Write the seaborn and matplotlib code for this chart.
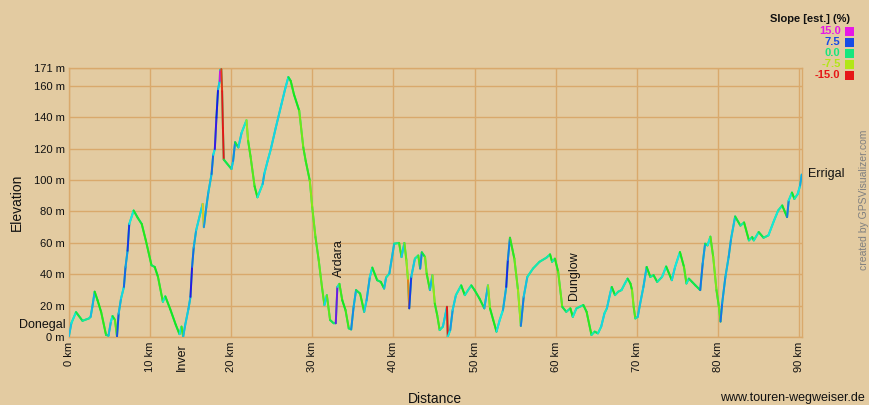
import numpy as np
import pandas as pd
import matplotlib
matplotlib.use("Agg")
import matplotlib.pyplot as plt
import seaborn as sns
from matplotlib.collections import LineCollection
from matplotlib.colors import hsv_to_rgb
from matplotlib.patches import Rectangle

# ---------------- data ----------------
distance_km = [
    0.0, 0.33, 0.66, 0.9, 1.7, 2.5, 2.7, 2.9, 3.2, 3.55, 4.0, 4.6, 4.9, 5.2, 5.4, 5.7,
    5.95, 6.15, 6.45, 6.8, 7.0, 7.25, 7.46, 8.0, 8.5, 9.0, 9.5, 10.2, 10.6, 11.0, 11.6,
    11.9, 12.5, 13.2, 13.65, 13.9, 14.1, 14.35, 14.75, 15.0, 15.2, 15.4, 15.7, 16.3,
    16.5, 16.65, 16.95, 17.2, 17.6, 17.8, 18.0, 18.2, 18.4, 18.6, 18.65, 18.8, 18.9,
    19.0, 19.1, 20.05, 20.25, 20.5, 20.9, 21.3, 21.9, 22.1, 22.4, 22.9, 23.25, 23.9,
    24.1, 24.5, 24.9, 25.5, 26.2, 26.7, 27.06, 27.35, 27.75, 28.4, 28.9, 29.2, 29.7,
    30.0, 30.4, 30.8, 31.2, 31.5, 31.8, 32.2, 32.65, 32.9, 33.1, 33.35, 33.7, 34.1,
    34.5, 34.8, 35.1, 35.4, 35.9, 36.4, 36.7, 37.1, 37.4, 38.0, 38.45, 38.86, 39.1,
    39.5, 40.1, 40.7, 41.0, 41.35, 41.6, 41.8, 41.95, 42.2, 42.65, 43.06, 43.3, 43.5,
    43.9, 44.1, 44.5, 44.8, 45.1, 45.4, 45.7, 46.1, 46.6, 46.7, 47.0, 47.3, 47.7,
    48.35, 48.8, 49.2, 49.6, 50.0, 50.6, 51.2, 51.65, 51.9, 52.3, 52.7, 53.1, 53.5,
    53.9, 54.1, 54.36, 54.9, 55.35, 55.7, 56.05, 56.5, 57.2, 58.0, 58.85, 59.3, 59.55,
    59.9, 60.3, 60.8, 61.3, 61.8, 62.1, 62.55, 63.4, 63.8, 64.4, 64.8, 65.2, 65.6,
    66.0, 66.3, 66.7, 66.9, 67.3, 67.7, 68.1, 68.56, 68.85, 69.2, 69.4, 69.6, 69.8,
    70.1, 70.4, 70.8, 71.2, 71.65, 72.05, 72.5, 73.1, 73.6, 74.3, 74.7, 75.3, 75.8,
    76.1, 76.4, 76.8, 77.2, 77.8, 78.1, 78.4, 78.7, 79.05, 79.4, 79.8, 80.1, 80.3,
    80.5, 80.9, 81.3, 81.6, 82.1, 82.75, 83.2, 83.8, 84.2, 84.4, 85.0, 85.6, 86.2,
    86.9, 87.4, 87.9, 88.5, 88.7, 89.1, 89.4, 89.8, 90.1, 90.3,
]
elevation_m = [
    0, 9, 13, 16, 10.5, 12, 13, 19, 29, 23.6, 16, 1.5, 1, 10, 13.5, 11,
    0.5, 15, 24.7, 32, 44.7, 55, 72, 80.6, 76, 72, 61.6, 45.8, 44.7, 38.4, 22.6,
    26, 18, 7.8, 2, 6.8, 0.4, 7.8, 18, 25.7, 44.7, 57, 68, 80.6,
    84.8, 70, 82.7, 92, 103.8, 116, 119.6, 139.7, 157.6, 162.9, 170, 170.5, 156.5,
    133, 113, 107, 112, 124, 120.7, 130, 138, 125, 115, 96, 89, 97.5,
    104, 112, 119.6, 133, 148, 158.6, 165.4, 163, 154.4, 144, 120.7, 112, 99.6,
    82.7, 63.7, 49, 32, 20.5, 26.8, 11, 8.9, 8.9, 32, 34, 23.6, 17.3,
    5.7, 5, 19.4, 30, 27.8, 16.2, 23.6, 38.4, 44.3, 36.3, 35.2, 31, 38,
    40.5, 59.5, 60, 51, 60, 49, 36.3, 18.4, 38.4, 50, 52, 43.7, 54,
    51, 40.5, 30, 39.5, 21.5, 14, 4.6, 6.8, 19.4, 0.4, 4.6, 17.3, 26.8,
    33, 26.8, 30, 33, 30, 24.7, 18.4, 33, 18.4, 11, 3.6, 11, 17.3,
    32, 49, 63.3, 50, 30, 7.2, 25.7, 38.4, 43.7, 48, 50.6, 52.7, 48,
    50, 41.6, 19.4, 16.2, 18.4, 13, 18.4, 20.5, 16.2, 1.5, 3.6, 2.5, 6.8,
    15.2, 18.4, 27.8, 32, 26.8, 29, 30, 34.6, 37.3, 34.2, 30, 19.4, 12,
    13, 21.5, 32, 44.7, 38.4, 39.5, 35.2, 38.4, 45, 36.3, 44.7, 54.2, 44.7,
    34.2, 37.3, 35.2, 33, 30, 46.8, 59.5, 58.4, 64, 51, 30, 19.4, 10,
    21.5, 38.4, 51, 62.7, 76.8, 71, 73, 61.6, 63.7, 61.6, 66.9, 63.3, 64.8,
    74.3, 80.6, 83.8, 76.4, 87, 92, 88, 91, 96.4, 103.4,
]

x_ticks_km = [0, 10, 20, 30, 40, 50, 60, 70, 80, 90]
y_ticks_m = [0, 20, 40, 60, 80, 100, 120, 140, 160, 171]

legend_slopes = [15.0, 7.5, 0.0, -7.5, -15.0]

waypoint_names = ["Donegal", "Inver", "Ardara", "Dunglow", "Errigal"]
waypoint_km = [0.0, 13.9, 33.35, 62.2, 90.3]
waypoint_elev = [0, 0, 34, 13, 103.4]

# ---------------- style ----------------
BG = "#E3CBA1"
GRID = "#D9A96C"
W, H = 869, 405


def slope_hue(s):
    a = min(abs(float(s)), 15.0)
    sign = 1.0 if s >= 0 else -1.0
    if a <= 7.5:
        off = 75.0 * (a / 7.5) ** 0.6
    else:
        off = 75.0 + 10.0 * (a - 7.5)
    return (150.0 + sign * off) / 360.0


def slope_color(s):
    return hsv_to_rgb([slope_hue(s), 0.9, 0.9])


sns.set_theme(style="white")
plt.rcParams["font.family"] = ["Liberation Sans", "DejaVu Sans"]

fig = plt.figure(figsize=(W / 100, H / 100), dpi=100, facecolor=BG)
ax = fig.add_axes([68.7 / W, 1 - 337.3 / H, (801.7 - 68.7) / W, (337.3 - 68.3) / H])
ax.set_facecolor(BG)

df = pd.DataFrame({"Distance": distance_km, "Elevation": elevation_m})
sns.lineplot(data=df, x="Distance", y="Elevation", ax=ax, color=slope_color(0),
             lw=1.4, estimator=None, sort=False, zorder=2)

d = df["Distance"].to_numpy()
e = df["Elevation"].to_numpy()
slopes = np.diff(e) / (np.diff(d) * 1000.0) * 100.0
segs = np.stack([np.column_stack([d[:-1], e[:-1]]),
                 np.column_stack([d[1:], e[1:]])], axis=1)
lc = LineCollection(segs, colors=[slope_color(s) for s in slopes],
                    linewidths=1.4, zorder=3, capstyle="round")
ax.add_collection(lc)

ax.set_xlim(0, 90.3)
ax.set_ylim(0, 171)
ax.set_xticks(x_ticks_km)
ax.set_xticklabels([f"{v} km" for v in x_ticks_km], rotation=90)
ax.set_yticks(y_ticks_m)
ax.set_yticklabels([f"{v} m" for v in y_ticks_m])
ax.tick_params(length=0, pad=3, labelsize=8, labelcolor="#111111")
ax.grid(True, color=GRID, lw=1)
ax.set_axisbelow(True)
for sp in ax.spines.values():
    sp.set_color(GRID)
    sp.set_linewidth(1)

ax.set_xlabel("Distance", fontsize=10, color="#111111")
ax.xaxis.set_label_coords(0.5, -0.203)
ax.set_ylabel("Elevation", fontsize=10, color="#111111")
ax.yaxis.set_label_coords(-0.061, 0.5)

# waypoint labels
wp_fs = 9
ax.text(waypoint_km[0] - 0.35, waypoint_elev[0] + 8, waypoint_names[0], ha="right",
        va="center", fontsize=wp_fs, clip_on=False, color="#111111")
ax.text(waypoint_km[1], -0.021, waypoint_names[1], transform=ax.get_xaxis_transform(),
        rotation=90, ha="center", va="top", fontsize=wp_fs, clip_on=False, color="#111111")
ax.text(waypoint_km[2], waypoint_elev[2] + 4.5, waypoint_names[2], rotation=90,
        ha="center", va="bottom", fontsize=wp_fs, color="#111111")
ax.text(waypoint_km[3], waypoint_elev[3] + 10.5, waypoint_names[3], rotation=90,
        ha="center", va="bottom", fontsize=wp_fs, color="#111111")
ax.text(waypoint_km[4] + 0.8, waypoint_elev[4] + 0.5, waypoint_names[4], ha="left",
        va="center", fontsize=wp_fs, clip_on=False, color="#111111")

# legend
fig.text(850 / W, 1 - 18.5 / H, "Slope [est.] (%)", ha="right", va="center",
         fontsize=8, fontweight="bold", color="#111111")
for i, s in enumerate(legend_slopes):
    yc = 31.5 + i * 10.9
    col = slope_color(s)
    fig.text(840.5 / W, 1 - yc / H, f"{s:.1f}", ha="right", va="center",
             fontsize=8, fontweight="bold", color=col)
    fig.add_artist(Rectangle((844.5 / W, 1 - (yc + 4.5) / H), 9 / W, 9 / H,
                             transform=fig.transFigure, facecolor=col,
                             edgecolor="none"))

fig.text(865 / W, 1 - 398 / H, "www.touren-wegweiser.de", ha="right", va="center",
         fontsize=9, color="#111111")
fig.text(864 / W, 1 - 200 / H, "created by GPSVisualizer.com", rotation=90,
         ha="center", va="center", fontsize=7.5, color="#808080")

fig.savefig("out.png", dpi=100, facecolor=BG)
